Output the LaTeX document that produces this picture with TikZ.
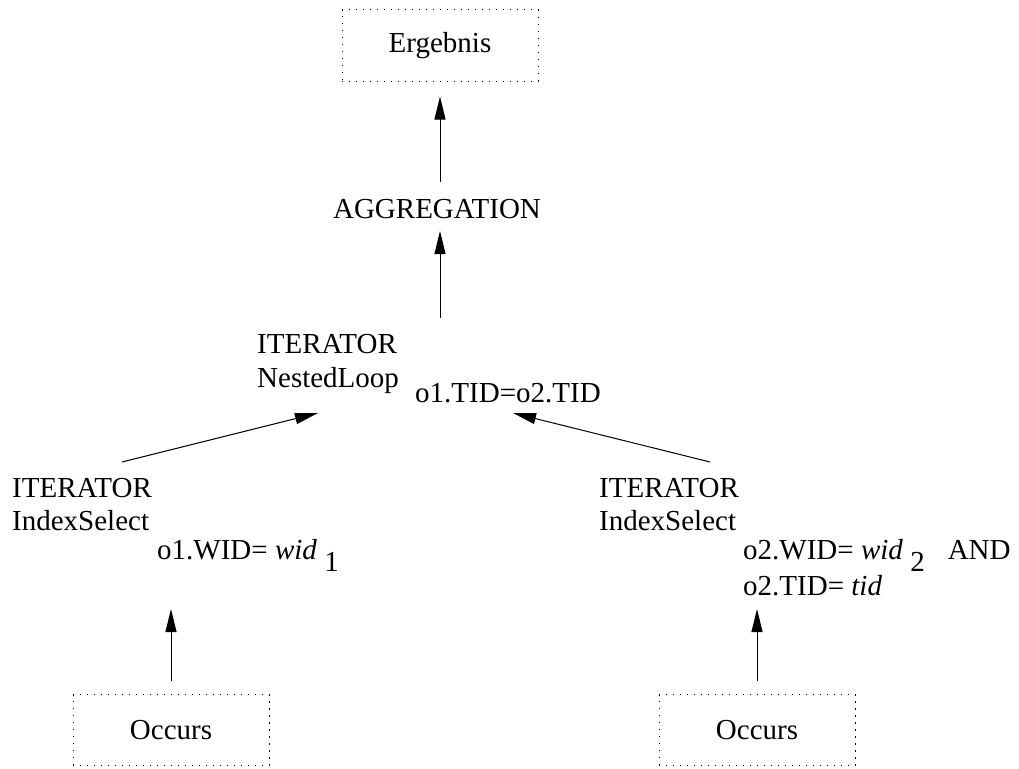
\documentclass[tikz,border=0pt]{standalone}
\usepackage{fontspec}
\setmainfont{Liberation Serif}
\usetikzlibrary{arrows.meta}
\begin{document}
\begin{tikzpicture}[x=1pt,y=-1pt,
  lbl/.style={font=\fontsize{29}{34}\selectfont, inner sep=0pt, anchor=base west},
  relbox/.style={draw, line width=1pt, dash pattern=on 1.2pt off 5.8pt,
    minimum width=196pt, minimum height=71pt, inner sep=0pt,
    font=\fontsize{29}{34}\selectfont},
  arr/.style={line width=1pt, -{Triangle[length=23pt,width=11pt]}}]
\useasboundingbox (0,0) rectangle (1019,768);

% result and aggregation
\node[relbox] (erg) at (440,45.5) {Ergebnis};
\node[lbl, anchor=base] (agg) at (437,218) {AGGREGATION};

% join operator
\node[lbl] (itM) at (257,353) {ITERATOR};
\node[lbl] (nl) at (257,387) {NestedLoop};
\node[lbl] (joinc) at (415,402) {o1.TID=o2.TID};

% left index select
\node[lbl] (itL) at (12,497) {ITERATOR};
\node[lbl] (isL) at (12,530) {IndexSelect};
\node[lbl] (cL) at (157,559) {o1.WID= \textit{wid} \raisebox{-12pt}{1}};

% right index select
\node[lbl] (itR) at (599,497) {ITERATOR};
\node[lbl] (isR) at (599,530) {IndexSelect};
\node[lbl] (cR1) at (743,559) {o2.WID= \textit{wid} \raisebox{-12pt}{2}\hspace{23pt}AND};
\node[lbl] (cR2) at (743,595) {o2.TID= \textit{tid}};

% base relations
\node[relbox] (occL) at (171,730) {Occurs};
\node[relbox] (occR) at (757,730) {Occurs};

% connector end points
\coordinate (aggTop) at (440,182);
\coordinate (aggBot) at (440,231);
\coordinate (nlTop) at (440,318);
\coordinate (itLTop) at (122,462);
\coordinate (nlIn) at (318,413);
\coordinate (itRTop) at (710,462);
\coordinate (joinIn) at (513,413);
\coordinate (cLBot) at (171,609);
\coordinate (cRBot) at (757,609);

% data flow, bottom to top
\draw[arr, shorten >=15pt] (aggTop) -- (erg.south -| aggTop);
\draw[arr] (nlTop) -- (aggBot);
\draw[arr] (itLTop) -- (nlIn);
\draw[arr] (itRTop) -- (joinIn);
\draw[arr, shorten <=13pt] (occL.north) -- (cLBot);
\draw[arr, shorten <=13pt] (occR.north) -- (cRBot);
\end{tikzpicture}
\end{document}
